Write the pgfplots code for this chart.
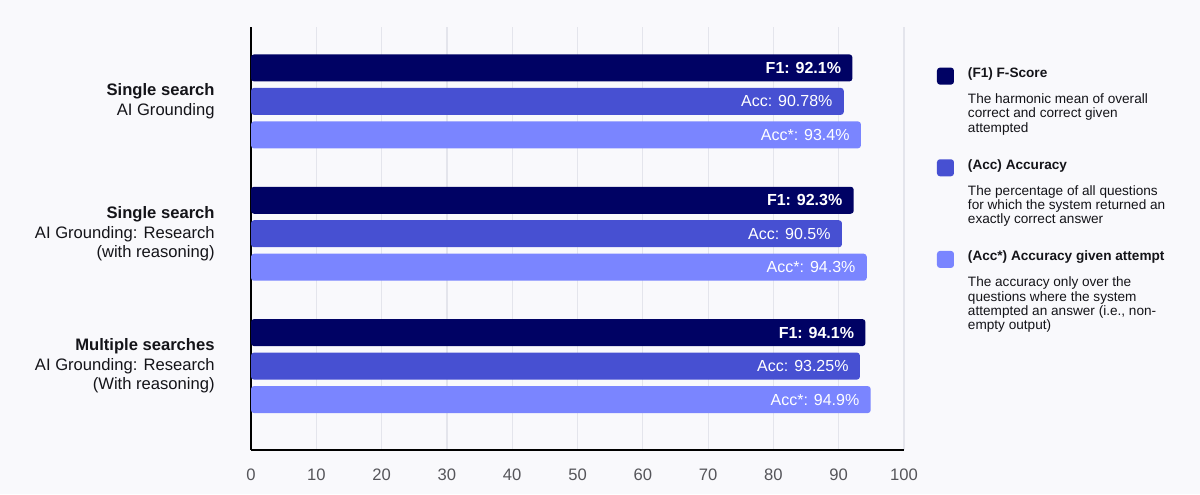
\documentclass[border=0pt]{standalone}
\usepackage{pgfplots}
\pgfplotsset{compat=1.18}
\usepackage{fontspec}
\setmainfont{Liberation Sans}
\definecolor{bg}{RGB}{249,249,252}
\definecolor{f1col}{RGB}{0,2,100}
\definecolor{acccol}{RGB}{71,80,210}
\definecolor{accscol}{RGB}{122,133,255}
\definecolor{gridcol}{RGB}{228,229,236}
\definecolor{tickcol}{RGB}{85,85,90}
\definecolor{labcol}{RGB}{20,20,25}

\begin{document}
\begin{tikzpicture}
\fill[bg] (0,0) rectangle (600pt,247pt);
\begin{axis}[
  at={(125.5pt,22pt)}, anchor=south west,
  width=326.5pt, height=211.5pt, scale only axis,
  xbar, bar width=0.204,
  xmin=0, xmax=100, ymin=-0.562, ymax=2.634, y dir=reverse,
  axis x line=bottom, axis y line=left,
  axis line style={-, line width=1.4pt, black},
  xtick={0,10,...,100}, ytick={0,1,2},
  yticklabels={{\textbf{Single search}\\AI Grounding},
               {\textbf{Single search}\\AI Grounding: Research\\(with reasoning)},
               {\textbf{Multiple searches}\\AI Grounding: Research\\(With reasoning)}},
  major tick length=0pt,
  xmajorgrids, grid style={gridcol, line width=0.6pt},
  /pgf/number format/assume math mode=true,
  xticklabel style={text=tickcol, font=\fontsize{8.3}{10}\selectfont, inner sep=0pt, yshift=-9pt},
  yticklabel style={align=right, text=labcol, font=\fontsize{8.3}{9.75}\selectfont, inner sep=0pt, xshift=-18pt},
  point meta=explicit symbolic,
  every node near coord/.append style={anchor=east, xshift=-5.5pt, text=white, inner sep=0pt, font=\fontsize{8}{9.6}\selectfont},
  legend style={at={(1.0505,0.904)}, anchor=north west, draw=none, fill=none,
    inner sep=0pt, outer sep=0pt, row sep=12pt, column sep=7pt,
    cells={anchor=north west},
    nodes={inner sep=0pt, align=left, text=labcol, font=\fontsize{6.8}{7.2}\selectfont}},
  legend image code/.code={\fill[#1, draw=none, rounded corners=1.5pt] (0pt,0pt) rectangle (8.5pt,-8.5pt);},
]
\addplot[fill=f1col, draw=none, bar shift=-0.253, rounded corners=1.5pt,
  nodes near coords={\textbf{F1: \pgfplotspointmeta\%}}]
  coordinates {(92.1,0) [92.1] (92.3,1) [92.3] (94.1,2) [94.1]};
\addlegendentry{\textbf{(F1) F-Score}\\[5.8pt]The harmonic mean of overall\\correct and correct given\\attempted}
\addplot[fill=acccol, draw=none, bar shift=0, rounded corners=1.5pt,
  nodes near coords={Acc: \pgfplotspointmeta\%}]
  coordinates {(90.78,0) [90.78] (90.5,1) [90.5] (93.25,2) [93.25]};
\addlegendentry{\textbf{(Acc) Accuracy}\\[5.8pt]The percentage of all questions\\for which the system returned an\\exactly correct answer}
\addplot[fill=accscol, draw=none, bar shift=0.253, rounded corners=1.5pt,
  nodes near coords={Acc*: \pgfplotspointmeta\%}]
  coordinates {(93.4,0) [93.4] (94.3,1) [94.3] (94.9,2) [94.9]};
\addlegendentry{\textbf{(Acc*) Accuracy given attempt}\\[5.8pt]The accuracy only over the\\questions where the system\\attempted an answer (i.e., non-\\empty output)}
\end{axis}
\pgfresetboundingbox
\useasboundingbox (0,0) rectangle (600pt,247pt);
\end{tikzpicture}
\end{document}
